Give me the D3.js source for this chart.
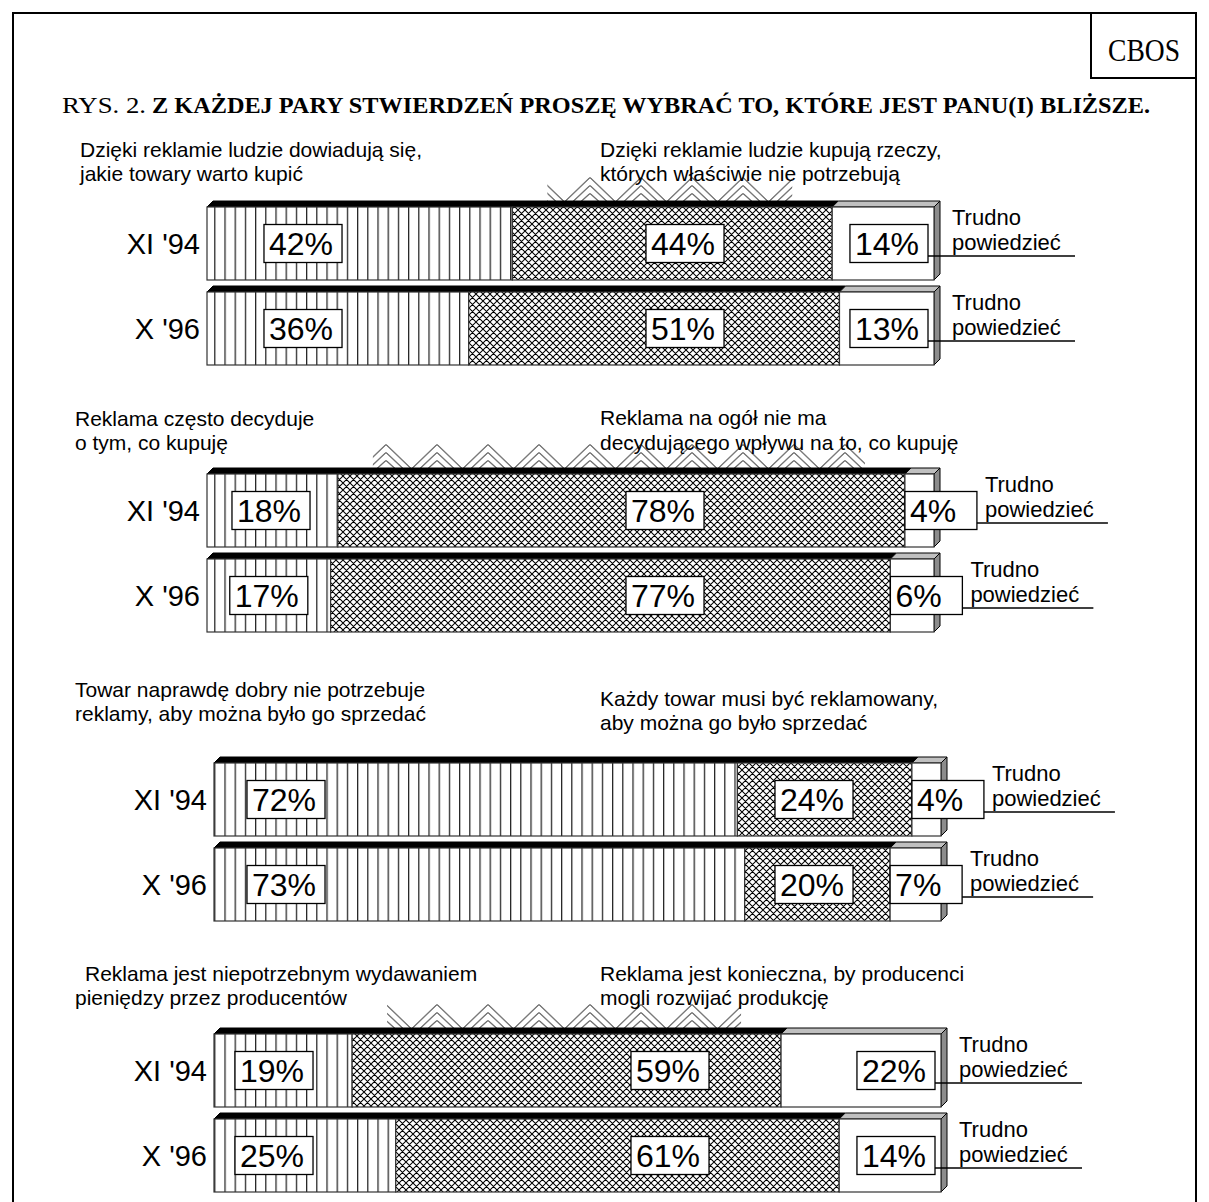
<!DOCTYPE html>
<html>
<head>
<meta charset="utf-8">
<script src="https://cdn.jsdelivr.net/npm/d3@7"></script>
<style>
  body { margin: 0; background: #fff; }
  svg { display: block; }
  .sans { font-family: "Liberation Sans", Arial, sans-serif; }
  .serif { font-family: "Liberation Serif", "Times New Roman", serif; }
</style>
</head>
<body>
<div id="chart"></div>
<script>
// data
const statementsLeft = [
  ["Dzięki reklamie ludzie dowiadują się,", "jakie towary warto kupić"],
  ["Reklama często decyduje", "o tym, co kupuję"],
  ["Towar naprawdę dobry nie potrzebuje", "reklamy, aby można było go sprzedać"],
  ["Reklama jest niepotrzebnym wydawaniem", "pieniędzy przez producentów"]
];
const statementsRight = [
  ["Dzięki reklamie ludzie kupują rzeczy,", "których właściwie nie potrzebują"],
  ["Reklama na ogół nie ma", "decydującego wpływu na to, co kupuję"],
  ["Każdy towar musi być reklamowany,", "aby można go było sprzedać"],
  ["Reklama jest konieczna, by producenci", "mogli rozwijać produkcję"]
];
const periods = ["XI '94", "X '96"];
const agreeLeft = [[42, 36], [18, 17], [72, 73], [19, 25]];
const agreeRight = [[44, 51], [78, 77], [24, 20], [59, 61]];
const hardToSay = [[14, 13], [4, 6], [4, 7], [22, 14]];
const hardLabel = ["Trudno", "powiedzieć"];
const titlePrefix = "RYS. 2.";
const titleText = "Z KAŻDEJ PARY STWIERDZEŃ PROSZĘ WYBRAĆ TO, KTÓRE JEST PANU(I) BLIŻSZE.";
const sourceLabel = "CBOS";

// layout
const W = 1209, H = 1202;
const groupX = [207, 207, 214, 214];
const groupTop = [201, 468, 757, 1028];
const barW = 727, depth = 6, frontH = 73, pitch = 85;
const headLeftX = [[80, 80], [75, 75], [75, 75], [85, 75]];
const headLeftY = [[157, 181], [426, 450], [697, 721], [981, 1005]];
const headRightY = [[157, 181], [425, 450], [706, 730], [981, 1005]];
const firstOff = [96, 64, 72, 60];
const midOff = [478, 458, 600, 456];
const ghostGroups = [0, 1, 3];

const svg = d3.select("#chart").append("svg")
  .attr("width", W).attr("height", H);

const defs = svg.append("defs");
defs.append("pattern").attr("id", "vlines")
  .attr("patternUnits", "userSpaceOnUse")
  .attr("width", 10.2).attr("height", 10)
  .append("line")
  .attr("x1", 0.6).attr("x2", 0.6).attr("y1", 0).attr("y2", 10)
  .attr("stroke", "#222").attr("stroke-width", 1.3);

const xh = defs.append("pattern").attr("id", "xhatch")
  .attr("patternUnits", "userSpaceOnUse")
  .attr("width", 7).attr("height", 7);
xh.append("rect").attr("width", 7).attr("height", 7).attr("fill", "#fff");
xh.append("path").attr("d", "M0,0L7,7M0,7L7,0M-1,1L1,-1M6,8L8,6M-1,6L1,8M6,-1L8,1")
  .attr("stroke", "#000").attr("stroke-width", 1.05);

// frame
svg.append("path")
  .attr("d", "M13," + H + "V13H1196V" + H)
  .attr("fill", "none").attr("stroke", "#000").attr("stroke-width", 2);
svg.append("path")
  .attr("d", "M1091,13V78H1196")
  .attr("fill", "none").attr("stroke", "#000").attr("stroke-width", 2);
svg.append("text").attr("class", "serif")
  .attr("x", 1108).attr("y", 61)
  .attr("font-size", 31).attr("textLength", 72).attr("lengthAdjust", "spacingAndGlyphs")
  .text(sourceLabel);

svg.append("text").attr("class", "serif")
  .attr("x", 62).attr("y", 113).attr("font-size", 23)
  .attr("textLength", 84).attr("lengthAdjust", "spacingAndGlyphs")
  .text(titlePrefix);
svg.append("text").attr("class", "serif")
  .attr("x", 152).attr("y", 113).attr("font-size", 23).attr("font-weight", "bold")
  .attr("textLength", 998).attr("lengthAdjust", "spacingAndGlyphs")
  .text(titleText);

function pctBox(g, cy, label, place) {
  const t = g.append("text").attr("class", "sans")
    .attr("font-size", 32).attr("y", cy + 11.5).text(label);
  const tw = t.node().getComputedTextLength();
  const bw = Math.max(tw, 58) + 14, bh = 38;
  const left = place(bw);
  g.insert("rect", function () { return t.node(); })
    .attr("x", left).attr("y", cy - bh / 2)
    .attr("width", bw).attr("height", bh)
    .attr("fill", "#fff").attr("stroke", "#000").attr("stroke-width", 1.3);
  t.attr("x", left + 5);
  return { left: left, right: left + bw };
}

statementsLeft.forEach((lines, gi) => {
  const x0 = groupX[gi];
  const x = d3.scaleLinear().domain([0, 100]).range([x0, x0 + barW]);
  const g = svg.append("g");

  lines.forEach((ln, li) => {
    g.append("text").attr("class", "sans").attr("font-size", 21)
      .attr("x", headLeftX[gi][li]).attr("y", headLeftY[gi][li]).text(ln);
  });
  statementsRight[gi].forEach((ln, li) => {
    g.append("text").attr("class", "sans").attr("font-size", 21)
      .attr("x", 600).attr("y", headRightY[gi][li]).text(ln);
  });

  periods.forEach((p, bi) => {
    const top = groupTop[gi] + bi * pitch;
    const fy = top + depth;
    const a = agreeLeft[gi][bi], b = agreeRight[gi][bi], c = hardToSay[gi][bi];
    const s1 = x(0), s2 = x(a), s3 = x(a + b), s4 = x(100);
    const cy = fy + frontH / 2;

    // ghost chevrons leaking from the hatch above the first bar
    if (bi === 0 && ghostGroups.includes(gi)) {
      const ch = 24;
      const pid = "chev" + gi;
      const pat = defs.append("pattern").attr("id", pid)
        .attr("patternUnits", "userSpaceOnUse")
        .attr("width", 51).attr("height", ch)
        .attr("x", 590 - 25.5).attr("y", top - ch);
      pat.append("path")
        .attr("d", `M1,${ch}L25.5,0.5L50,${ch}M9,${ch}L25.5,8.5L42,${ch}M17,${ch}L25.5,16.5L34,${ch}`)
        .attr("fill", "none").attr("stroke", "#000").attr("stroke-width", 1);
      g.append("rect").attr("x", s2 + 35).attr("y", top - ch)
        .attr("width", Math.max(0, s3 - s2 - 75)).attr("height", ch)
        .attr("fill", `url(#${pid})`);
    }

    // top face
    g.append("path")
      .attr("d", `M${s1},${fy}L${s1 + depth},${top}H${s3 + depth}L${s3},${fy}Z`)
      .attr("fill", "#000").attr("stroke", "#000").attr("stroke-width", 1);
    g.append("path")
      .attr("d", `M${s3},${fy}L${s3 + depth},${top}H${s4 + depth}L${s4},${fy}Z`)
      .attr("fill", "#c0c0c0").attr("stroke", "#000").attr("stroke-width", 1);
    // side face
    g.append("path")
      .attr("d", `M${s4},${fy}L${s4 + depth},${top}V${top + frontH}L${s4},${fy + frontH}Z`)
      .attr("fill", "#8c8c8c").attr("stroke", "#000").attr("stroke-width", 1);

    // front segments
    g.append("rect").attr("x", s1).attr("y", fy).attr("width", s2 - s1).attr("height", frontH)
      .attr("fill", "#fff");
    g.append("rect").attr("x", s1).attr("y", fy).attr("width", s2 - s1).attr("height", frontH)
      .attr("fill", "url(#vlines)").attr("stroke", "#333").attr("stroke-width", 1.2);
    g.append("rect").attr("x", s2).attr("y", fy).attr("width", s3 - s2).attr("height", frontH)
      .attr("fill", "url(#xhatch)").attr("stroke", "#333").attr("stroke-width", 1.2);
    g.append("rect").attr("x", s3).attr("y", fy).attr("width", s4 - s3).attr("height", frontH)
      .attr("fill", "#fff").attr("stroke", "#333").attr("stroke-width", 1.2);

    // row label
    g.append("text").attr("class", "sans").attr("font-size", 29)
      .attr("x", x0 - 7).attr("y", cy + 10).attr("text-anchor", "end").text(p);

    // value labels
    pctBox(g, cy, a + "%", bw => Math.min((s1 + s2) / 2, x0 + firstOff[gi]) - bw / 2);
    const anchor = x0 + midOff[gi];
    pctBox(g, cy, b + "%", bw => {
      if (anchor - bw / 2 - 4 >= s2 && anchor + bw / 2 + 4 <= s3) return anchor - bw / 2;
      return (s2 + s3) / 2 - bw / 2;
    });
    const box3 = pctBox(g, cy, c + "%", bw => Math.max(s3, s4 - 6 - bw));

    const tx = Math.max(s4 + 18, box3.right + 8);
    g.append("text").attr("class", "sans").attr("font-size", 22)
      .attr("x", tx).attr("y", fy + 18).text(hardLabel[0]);
    g.append("text").attr("class", "sans").attr("font-size", 22)
      .attr("x", tx).attr("y", fy + 43).text(hardLabel[1]);
    g.append("line")
      .attr("x1", box3.right).attr("x2", tx + 123)
      .attr("y1", fy + 49).attr("y2", fy + 49)
      .attr("stroke", "#000").attr("stroke-width", 1.3);
  });
});
</script>
</body>
</html>
